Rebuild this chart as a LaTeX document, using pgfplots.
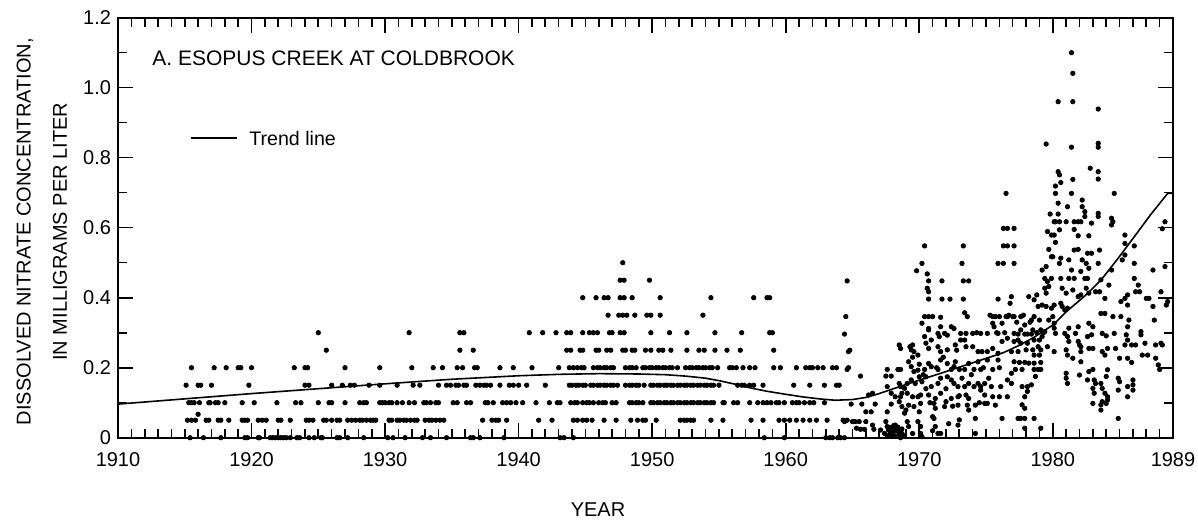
\documentclass[border=0pt]{standalone}
\usepackage{fontspec}
\setmainfont{Liberation Sans}
\usepackage{pgfplots}
\pgfplotsset{compat=1.18}
\pgfplotsset{dots/.style={only marks, mark=*, mark size=1.1pt, black}}

\begin{document}
\begin{tikzpicture}
\useasboundingbox (-59pt,-43.65pt) rectangle (540pt,218.85pt);
\begin{axis}[
    scale only axis,
    width=527.5pt, height=210pt,
    xmin=1910, xmax=1989,
    ymin=0, ymax=1.2,
    xtick={1910,1920,1930,1940,1950,1960,1970,1980,1989},
    xticklabels={1910,1920,1930,1940,1950,1960,1970,1980,1989},
    minor xtick={1911,...,1988},
    ytick={0,0.2,0.4,0.6,0.8,1.0,1.2},
    yticklabels={0,0.2,0.4,0.6,0.8,1.0,1.2},
    minor ytick={0.1,0.3,0.5,0.7,0.9,1.1},
    tick align=inside,
    major tick length=7.5pt,
    minor tick length=4.5pt,
    every tick/.style={black, line width=0.8pt},
    axis line style={line width=0.9pt},
    tick label style={font=\fontsize{10}{12}\selectfont},
    /pgf/number format/assume math mode=true,
    xticklabel style={anchor=center, yshift=-10.8pt},
    clip=false,
]

% trend line
\addplot[black, line width=0.8pt] coordinates {
    (1910,0.096) (1915,0.111) (1920,0.126) (1925,0.140) (1930,0.154)
    (1935,0.167) (1940,0.177) (1943,0.181) (1946,0.183) (1949,0.182)
    (1951,0.180) (1952.5,0.176) (1954,0.170) (1955,0.163) (1956.2,0.153)
    (1957.5,0.141) (1958.7,0.132) (1960,0.124) (1961.2,0.117) (1962.5,0.111)
    (1963.7,0.107) (1965,0.109) (1966,0.115) (1967,0.126) (1968,0.139)
    (1969,0.152) (1970.3,0.168) (1971.6,0.184) (1974,0.214) (1976.3,0.243)
    (1977.5,0.264) (1978.6,0.287) (1980,0.322) (1981.1,0.363) (1982.4,0.405)
    (1983.6,0.450) (1984.8,0.508) (1986.1,0.574) (1987.3,0.636) (1988.6,0.698)
    (1989,0.698)
};

% 1914-1965 samples (reported in 0.05 steps)
\addplot[dots] coordinates {
    (1915.4,0) (1916.4,0) (1917.7,0) (1919.5,0) (1919.7,0) (1920.5,0) (1920.6,0)
    (1921.4,0) (1921.6,0) (1921.8,0) (1922.0,0) (1922.2,0) (1922.4,0) (1922.6,0)
    (1922.9,0) (1923.4,0) (1923.6,0) (1924.3,0) (1924.7,0) (1925.2,0) (1925.3,0)
    (1926.4,0) (1926.6,0) (1927.2,0) (1928.4,0) (1930.2,0) (1930.6,0) (1931.5,0)
    (1932.8,0) (1933.4,0) (1934.6,0) (1936.4,0) (1936.6,0) (1937.1,0) (1938.9,0)
    (1943.1,0) (1943.4,0) (1944.1,0) (1958.4,0) (1959.9,0) (1963.0,0) (1963.3,0)
    (1963.5,0) (1963.9,0) (1964.1,0) (1964.4,0)
};
\addplot[dots] coordinates {
    (1915.2,0.05) (1915.5,0.05) (1915.8,0.05) (1916.6,0.05) (1916.8,0.05)
    (1917.5,0.05) (1917.7,0.05) (1918.3,0.05) (1919.3,0.05) (1919.5,0.05)
    (1919.7,0.05) (1920.5,0.05) (1920.8,0.05) (1921.1,0.05) (1922.0,0.05)
    (1922.2,0.05) (1922.9,0.05) (1924.1,0.05) (1924.3,0.05) (1924.6,0.05)
    (1925.4,0.05) (1925.6,0.05) (1926.0,0.05) (1926.4,0.05) (1926.6,0.05)
    (1927.2,0.05) (1927.5,0.05) (1927.8,0.05) (1928.1,0.05) (1928.3,0.05)
    (1928.6,0.05) (1928.9,0.05) (1929.1,0.05) (1929.3,0.05) (1930.3,0.05)
    (1930.5,0.05) (1930.9,0.05) (1931.1,0.05) (1931.4,0.05) (1931.6,0.05)
    (1931.9,0.05) (1932.2,0.05) (1932.4,0.05) (1933.0,0.05) (1933.3,0.05)
    (1933.5,0.05) (1933.8,0.05) (1934.1,0.05) (1934.4,0.05) (1937.3,0.05)
    (1938.0,0.05) (1938.3,0.05) (1938.5,0.05) (1939.1,0.05) (1941.5,0.05)
    (1942.5,0.05) (1944.1,0.05) (1944.4,0.05) (1944.8,0.05) (1945.1,0.05)
    (1945.5,0.05) (1946.4,0.05) (1947.3,0.05) (1948.4,0.05) (1948.9,0.05)
    (1949.3,0.05) (1949.5,0.05) (1950.3,0.05) (1952.1,0.05) (1952.4,0.05)
    (1952.6,0.05) (1952.9,0.05) (1953.1,0.05) (1954.4,0.05) (1955.3,0.05)
    (1957.4,0.05) (1958.3,0.05) (1959.5,0.05) (1959.9,0.05) (1960.3,0.05)
    (1960.8,0.05) (1961.3,0.05) (1961.8,0.05) (1962.3,0.05) (1963.1,0.05)
    (1964.3,0.05) (1964.6,0.05) (1916.0,0.067)
};
\addplot[dots] coordinates {
    (1915.3,0.1) (1915.5,0.1) (1915.7,0.1) (1916.1,0.1) (1916.8,0.1) (1916.9,0.1)
    (1917.3,0.1) (1917.5,0.1) (1918.0,0.1) (1919.3,0.1) (1920.2,0.1) (1921.9,0.1)
    (1923.3,0.1) (1923.7,0.1) (1925.0,0.1) (1925.8,0.1) (1926.0,0.1) (1927.0,0.1)
    (1928.1,0.1) (1928.4,0.1) (1928.6,0.1) (1929.6,0.1) (1929.8,0.1) (1930.0,0.1)
    (1930.3,0.1) (1930.5,0.1) (1930.9,0.1) (1931.3,0.1) (1931.8,0.1) (1932.2,0.1)
    (1932.9,0.1) (1933.1,0.1) (1933.4,0.1) (1933.8,0.1) (1934.0,0.1) (1935.1,0.1)
    (1935.4,0.1) (1936.1,0.1) (1936.4,0.1) (1937.5,0.1) (1937.7,0.1) (1938.1,0.1)
    (1938.8,0.1) (1939.1,0.1) (1939.4,0.1) (1939.8,0.1) (1940.3,0.1) (1941.3,0.1)
    (1942.3,0.1) (1942.9,0.1) (1943.1,0.1) (1943.9,0.1) (1944.2,0.1) (1944.4,0.1)
    (1944.8,0.1) (1945.1,0.1) (1945.3,0.1) (1945.6,0.1) (1946.0,0.1) (1946.3,0.1)
    (1946.5,0.1) (1947.0,0.1) (1947.3,0.1) (1948.3,0.1) (1948.5,0.1) (1948.8,0.1)
    (1949.0,0.1) (1949.3,0.1) (1949.9,0.1) (1950.1,0.1) (1950.4,0.1) (1950.6,0.1)
    (1950.9,0.1) (1951.1,0.1) (1951.4,0.1) (1951.6,0.1) (1951.9,0.1) (1952.1,0.1)
    (1952.4,0.1) (1952.6,0.1) (1952.9,0.1) (1953.1,0.1) (1953.4,0.1) (1953.6,0.1)
    (1953.9,0.1) (1954.1,0.1) (1954.4,0.1) (1954.6,0.1) (1955.3,0.1) (1955.4,0.1)
    (1956.1,0.1) (1956.4,0.1) (1957.3,0.1) (1957.9,0.1) (1958.3,0.1) (1958.6,0.1)
    (1958.9,0.1) (1959.3,0.1) (1959.5,0.1) (1959.9,0.1) (1960.5,0.1) (1960.8,0.1)
    (1961.0,0.1) (1961.4,0.1) (1961.8,0.1) (1962.1,0.1) (1962.9,0.1)
};
\addplot[dots] coordinates {
    (1915.1,0.15) (1916.0,0.15) (1916.2,0.15) (1917.0,0.15) (1919.8,0.15)
    (1924.0,0.15) (1924.3,0.15) (1926.0,0.15) (1926.8,0.15) (1927.4,0.15)
    (1927.7,0.15) (1928.8,0.15) (1929.6,0.15) (1930.9,0.15) (1932.1,0.15)
    (1932.6,0.15) (1934.0,0.15) (1934.6,0.15) (1934.9,0.15) (1935.3,0.15)
    (1935.5,0.15) (1935.9,0.15) (1936.1,0.15) (1936.8,0.15) (1937.1,0.15)
    (1937.4,0.15) (1937.6,0.15) (1937.9,0.15) (1938.6,0.15) (1939.3,0.15)
    (1939.6,0.15) (1940.0,0.15) (1940.6,0.15) (1942.0,0.15) (1943.8,0.15)
    (1944.0,0.15) (1944.3,0.15) (1944.5,0.15) (1944.8,0.15) (1945.0,0.15)
    (1945.4,0.15) (1945.6,0.15) (1945.9,0.15) (1946.1,0.15) (1946.4,0.15)
    (1946.6,0.15) (1946.9,0.15) (1947.1,0.15) (1947.4,0.15) (1948.0,0.15)
    (1948.3,0.15) (1948.5,0.15) (1948.8,0.15) (1949.0,0.15) (1949.4,0.15)
    (1949.9,0.15) (1950.1,0.15) (1950.4,0.15) (1950.6,0.15) (1950.9,0.15)
    (1951.1,0.15) (1951.4,0.15) (1951.6,0.15) (1951.9,0.15) (1952.1,0.15)
    (1952.4,0.15) (1952.6,0.15) (1952.9,0.15) (1953.1,0.15) (1953.4,0.15)
    (1953.6,0.15) (1953.9,0.15) (1954.1,0.15) (1954.4,0.15) (1954.6,0.15)
    (1955.0,0.15) (1956.4,0.15) (1956.7,0.15) (1956.9,0.15) (1957.3,0.15)
    (1957.6,0.15) (1958.3,0.15) (1960.6,0.15) (1961.8,0.15) (1962.9,0.15)
    (1963.8,0.15) (1964.0,0.15)
};
\addplot[dots] coordinates {
    (1915.5,0.2) (1917.2,0.2) (1918.1,0.2) (1919.0,0.2) (1919.2,0.2) (1920.0,0.2)
    (1923.2,0.2) (1924.0,0.2) (1924.2,0.2) (1927.0,0.2) (1929.6,0.2) (1932.0,0.2)
    (1933.6,0.2) (1934.3,0.2) (1935.4,0.2) (1935.8,0.2) (1936.7,0.2) (1936.9,0.2)
    (1938.6,0.2) (1939.6,0.2) (1941.0,0.2) (1943.0,0.2) (1943.8,0.2) (1944.1,0.2)
    (1944.4,0.2) (1944.7,0.2) (1944.9,0.2) (1945.6,0.2) (1945.9,0.2) (1946.1,0.2)
    (1946.4,0.2) (1946.6,0.2) (1946.9,0.2) (1947.1,0.2) (1948.0,0.2) (1948.3,0.2)
    (1948.5,0.2) (1948.8,0.2) (1949.3,0.2) (1949.5,0.2) (1949.8,0.2) (1950.0,0.2)
    (1950.3,0.2) (1950.5,0.2) (1950.8,0.2) (1951.0,0.2) (1951.3,0.2) (1951.5,0.2)
    (1951.9,0.2) (1952.5,0.2) (1952.8,0.2) (1953.0,0.2) (1953.3,0.2) (1953.5,0.2)
    (1953.8,0.2) (1954.0,0.2) (1954.3,0.2) (1954.5,0.2) (1954.9,0.2) (1955.8,0.2)
    (1956.0,0.2) (1956.3,0.2) (1956.8,0.2) (1957.3,0.2) (1957.7,0.2) (1959.1,0.2)
    (1959.6,0.2) (1960.8,0.2) (1961.5,0.2) (1961.8,0.2) (1962.0,0.2) (1962.4,0.2)
    (1962.8,0.2) (1963.5,0.2) (1963.8,0.2) (1964.7,0.2)
};
\addplot[dots] coordinates {
    (1925.6,0.25) (1935.6,0.25) (1936.6,0.25) (1943.6,0.25) (1943.9,0.25)
    (1944.6,0.25) (1944.8,0.25) (1945.8,0.25) (1946.0,0.25) (1946.6,0.25)
    (1946.9,0.25) (1947.8,0.25) (1948.0,0.25) (1948.5,0.25) (1948.7,0.25)
    (1949.5,0.25) (1949.9,0.25) (1950.5,0.25) (1950.8,0.25) (1951.4,0.25)
    (1952.6,0.25) (1953.5,0.25) (1953.9,0.25) (1954.7,0.25) (1955.6,0.25)
    (1956.6,0.25) (1959.1,0.25) (1964.8,0.25)
};
\addplot[dots] coordinates {
    (1925.0,0.3) (1931.8,0.3) (1935.6,0.3) (1935.9,0.3) (1940.8,0.3) (1941.8,0.3)
    (1942.8,0.3) (1943.6,0.3) (1943.9,0.3) (1944.8,0.3) (1945.3,0.3) (1945.6,0.3)
    (1945.9,0.3) (1946.8,0.3) (1947.0,0.3) (1947.6,0.3) (1947.9,0.3) (1949.9,0.3)
    (1951.3,0.3) (1952.6,0.3) (1954.7,0.3) (1956.7,0.3) (1958.8,0.3) (1959.0,0.3)
    (1946.7,0.35) (1947.5,0.35) (1947.8,0.35) (1948.1,0.35) (1948.7,0.35)
    (1949.6,0.35) (1949.9,0.35) (1950.6,0.35) (1953.8,0.35)
    (1944.8,0.4) (1945.8,0.4) (1946.4,0.4) (1946.7,0.4) (1947.6,0.4) (1947.9,0.4)
    (1948.5,0.4) (1950.6,0.4) (1954.4,0.4) (1957.6,0.4) (1958.6,0.4) (1958.8,0.4)
    (1947.6,0.45) (1947.9,0.45) (1949.8,0.45) (1947.8,0.5)
};

% 1964-1976 samples
\addplot[dots] coordinates {
    (1970.4,0.548) (1973.3,0.548) (1970.2,0.498) (1973.2,0.498) (1975.9,0.498)
    (1969.8,0.477) (1970.6,0.468) (1964.6,0.448) (1970.7,0.448) (1971.7,0.448)
    (1973.3,0.448) (1973.7,0.448) (1970.6,0.427) (1970.7,0.417) (1970.7,0.396)
    (1971.7,0.396) (1972.3,0.396) (1973.3,0.396) (1975.9,0.396) (1964.5,0.346)
    (1973.4,0.357) (1973.6,0.346) (1970.4,0.346) (1970.7,0.346) (1971.0,0.346)
    (1971.6,0.344) (1975.5,0.346) (1975.7,0.346) (1976.0,0.346) (1964.4,0.296)
    (1970.2,0.327) (1970.7,0.312) (1970.7,0.308) (1971.6,0.317) (1972.4,0.317)
    (1972.6,0.312) (1971.9,0.298) (1971.4,0.298) (1971.5,0.289) (1972.1,0.293)
    (1970.4,0.289) (1970.9,0.279) (1973.1,0.298) (1973.5,0.298) (1974.0,0.298)
    (1974.6,0.298) (1975.1,0.298) (1975.5,0.327) (1975.6,0.317) (1975.9,0.298)
    (1964.7,0.246) (1968.5,0.265) (1968.6,0.255) (1969.4,0.251) (1969.5,0.265)
    (1969.6,0.246) (1969.9,0.236) (1970.5,0.270) (1970.7,0.255) (1971.4,0.260)
    (1971.6,0.246) (1972.1,0.251) (1972.7,0.265) (1973.1,0.279) (1973.4,0.279)
    (1974.0,0.260) (1974.4,0.246) (1974.7,0.246) (1975.1,0.246) (1975.5,0.255)
    (1975.9,0.241) (1964.6,0.195) (1967.6,0.195) (1968.4,0.195) (1968.6,0.195)
    (1969.2,0.217) (1969.4,0.203) (1969.6,0.189) (1969.9,0.193) (1970.4,0.195)
    (1970.7,0.212) (1970.9,0.203) (1971.4,0.195) (1971.6,0.222) (1972.1,0.212)
    (1972.4,0.195) (1972.6,0.203) (1972.7,0.217) (1973.0,0.195) (1973.4,0.195)
    (1973.7,0.212) (1974.1,0.195) (1974.4,0.217) (1974.6,0.195) (1975.1,0.222)
    (1975.5,0.195) (1975.9,0.222) (1965.6,0.176) (1967.5,0.176) (1967.9,0.176)
    (1968.5,0.155) (1968.6,0.146) (1968.9,0.141) (1969.1,0.155) (1969.4,0.165)
    (1969.7,0.155) (1970.0,0.174) (1970.2,0.160) (1970.5,0.174) (1970.9,0.146)
    (1971.4,0.155) (1971.6,0.170) (1972.1,0.174) (1972.4,0.165) (1972.6,0.155)
    (1972.9,0.146) (1973.4,0.146) (1973.7,0.155) (1974.1,0.146) (1974.4,0.155)
    (1974.6,0.146) (1974.9,0.155) (1975.4,0.146) (1966.5,0.127) (1966.2,0.122)
    (1967.6,0.146) (1967.9,0.127) (1968.2,0.117) (1968.6,0.117) (1968.7,0.127)
    (1969.1,0.127) (1969.5,0.117) (1969.9,0.117) (1970.1,0.122) (1970.7,0.122)
    (1971.2,0.112) (1971.6,0.127) (1972.4,0.112) (1972.9,0.117) (1973.5,0.122)
    (1973.7,0.112) (1974.6,0.136) (1974.9,0.122) (1975.5,0.117) (1976.0,0.117)
    (1964.9,0.096) (1965.7,0.096) (1966.7,0.096) (1967.9,0.096) (1968.5,0.103)
    (1968.7,0.089) (1969.0,0.079) (1969.2,0.093) (1968.9,0.070) (1969.6,0.089)
    (1970.0,0.074) (1970.1,0.098) (1971.1,0.098) (1971.2,0.084) (1971.9,0.089)
    (1972.0,0.103) (1972.9,0.093) (1973.6,0.093) (1973.7,0.079) (1974.2,0.093)
    (1974.9,0.098) (1975.1,0.098) (1975.7,0.093) (1966.0,0.074) (1966.4,0.074)
    (1967.6,0.074) (1964.4,0.046) (1965.0,0.046) (1965.2,0.046) (1965.5,0.046)
    (1966.0,0.046) (1966.5,0.036) (1965.3,0.027) (1965.6,0.024) (1965.9,0.024)
    (1966.6,0.024) (1967.1,0.022) (1967.5,0.046) (1967.6,0.032) (1967.7,0.022)
    (1967.9,0.012) (1968.1,0.027) (1968.2,0.036) (1968.5,0.022) (1967.4,0.012)
    (1968.0,0.008) (1968.7,0.012) (1969.1,0.046) (1969.2,0.032) (1969.5,0.012)
    (1969.9,0.046) (1970.1,0.032) (1970.1,0.012) (1970.2,0.003) (1971.1,0.055)
    (1971.2,0.032) (1971.4,0.012) (1971.6,0.012) (1972.9,0.036) (1973.0,0.051)
    (1974.2,0.055) (1974.2,0.012) (1967.6,0.005) (1967.8,0.010) (1968.0,0.015)
    (1968.2,0.005) (1968.3,0.020) (1968.5,0.010) (1968.7,0.025) (1968.9,0.005)
    (1967.9,0.030) (1968.1,0.035) (1968.4,0.030) (1968.6,0.000)
    (1969.3,0.260) (1969.5,0.230) (1970.0,0.210) (1970.3,0.180) (1970.5,0.140)
    (1970.8,0.100) (1971.0,0.060) (1971.0,0.020) (1971.3,0.200) (1971.8,0.230)
    (1972.0,0.140) (1972.2,0.040) (1972.5,0.090) (1972.8,0.250) (1973.0,0.120)
    (1973.2,0.170) (1973.5,0.260) (1973.9,0.180) (1974.3,0.300) (1974.5,0.100)
    (1974.8,0.200) (1975.2,0.170) (1975.3,0.350) (1975.8,0.300) (1976.0,0.200)
};

% 1976-1989 samples
\addplot[dots] coordinates {
    (1981.4,1.100) (1981.5,1.041) (1980.4,0.960) (1981.5,0.960) (1983.4,0.939)
    (1979.5,0.839) (1981.4,0.830) (1983.4,0.841) (1983.4,0.830) (1982.8,0.770)
    (1983.4,0.760) (1983.4,0.739) (1980.4,0.760) (1980.5,0.751) (1980.6,0.729)
    (1980.2,0.719) (1981.5,0.738) (1976.5,0.698) (1981.4,0.698) (1980.2,0.698)
    (1984.6,0.698) (1980.4,0.670) (1981.1,0.660) (1982.2,0.679) (1982.2,0.660)
    (1982.4,0.646) (1982.4,0.632) (1979.8,0.639) (1980.4,0.639) (1980.1,0.617)
    (1980.2,0.617) (1980.5,0.617) (1981.0,0.617) (1981.6,0.617) (1981.9,0.617)
    (1982.1,0.617) (1982.9,0.613) (1983.4,0.641) (1983.4,0.632) (1984.4,0.627)
    (1984.5,0.617) (1984.4,0.608) (1981.6,0.595) (1979.6,0.589) (1979.9,0.579)
    (1980.1,0.579) (1980.5,0.594) (1980.2,0.558) (1981.9,0.577) (1982.7,0.577)
    (1985.4,0.579) (1985.4,0.555) (1986.1,0.548) (1988.2,0.597) (1988.4,0.617)
    (1976.3,0.598) (1976.6,0.598) (1977.1,0.598) (1976.3,0.548) (1976.6,0.548)
    (1977.1,0.548) (1979.7,0.538) (1979.9,0.517) (1980.0,0.517) (1980.5,0.498)
    (1980.6,0.513) (1981.2,0.508) (1981.9,0.538) (1981.6,0.536) (1982.6,0.527)
    (1982.9,0.527) (1982.2,0.508) (1982.5,0.498) (1981.4,0.479) (1982.1,0.475)
    (1982.7,0.484) (1983.4,0.498) (1983.5,0.536) (1985.4,0.522) (1985.2,0.508)
    (1986.1,0.498) (1987.5,0.479) (1988.4,0.489) (1976.3,0.498) (1977.1,0.498)
    (1979.2,0.479) (1979.5,0.489) (1979.4,0.455) (1979.6,0.446) (1979.9,0.455)
    (1980.6,0.455) (1981.2,0.455) (1981.6,0.455) (1982.4,0.455) (1982.6,0.455)
    (1983.6,0.451) (1983.2,0.417) (1983.5,0.417) (1984.2,0.436) (1984.4,0.479)
    (1983.9,0.398) (1980.7,0.427) (1981.0,0.413) (1981.5,0.422) (1981.9,0.403)
    (1982.1,0.408) (1982.5,0.427) (1982.7,0.413) (1979.7,0.432) (1979.4,0.427)
    (1979.5,0.413) (1986.1,0.455) (1986.4,0.436) (1986.2,0.417) (1986.5,0.417)
    (1985.6,0.408) (1985.4,0.398) (1985.1,0.389) (1985.6,0.379) (1987.0,0.398)
    (1987.2,0.398) (1988.1,0.417) (1987.5,0.375) (1987.6,0.336) (1988.6,0.389)
    (1988.5,0.379) (1976.9,0.403) (1976.8,0.384) (1977.0,0.346) (1976.5,0.346)
    (1976.2,0.327) (1976.6,0.346) (1977.1,0.346) (1977.6,0.346) (1978.2,0.403)
    (1978.8,0.408) (1978.6,0.394) (1978.9,0.375) (1979.2,0.379) (1979.5,0.375)
    (1979.9,0.370) (1980.1,0.379) (1980.6,0.384) (1980.7,0.375) (1980.9,0.365)
    (1981.1,0.370) (1980.0,0.346) (1979.7,0.336) (1980.1,0.327) (1978.6,0.346)
    (1978.4,0.336) (1979.0,0.336) (1979.1,0.308) (1977.9,0.322) (1977.6,0.308)
    (1977.1,0.298) (1977.4,0.296) (1978.1,0.296) (1978.4,0.296) (1978.5,0.308)
    (1977.9,0.296) (1979.4,0.303) (1980.1,0.313) (1980.2,0.298) (1981.2,0.313)
    (1981.9,0.317) (1982.7,0.327) (1983.0,0.317) (1983.6,0.355) (1983.9,0.355)
    (1984.5,0.346) (1985.1,0.346) (1985.7,0.336) (1985.6,0.317) (1976.2,0.275)
    (1976.6,0.284) (1977.1,0.275) (1977.4,0.279) (1977.6,0.270) (1978.1,0.270)
    (1978.6,0.279) (1979.0,0.279) (1979.2,0.289) (1978.9,0.260) (1979.1,0.251)
    (1979.0,0.236) (1976.9,0.246) (1977.4,0.246) (1978.0,0.251) (1978.5,0.251)
    (1978.6,0.236) (1977.1,0.217) (1977.5,0.215) (1977.9,0.215) (1978.2,0.213)
    (1978.6,0.213) (1979.1,0.215) (1980.9,0.298) (1981.1,0.289) (1981.2,0.275)
    (1981.7,0.298) (1981.9,0.275) (1982.0,0.265) (1982.6,0.289) (1982.9,0.294)
    (1983.7,0.298) (1984.0,0.291) (1984.6,0.298) (1985.5,0.294) (1985.6,0.279)
    (1986.6,0.303) (1986.6,0.294) (1986.9,0.270) (1985.4,0.265) (1985.9,0.265)
    (1986.2,0.265) (1987.7,0.265) (1988.1,0.270) (1988.2,0.265) (1980.1,0.246)
    (1981.0,0.251) (1981.1,0.236) (1981.5,0.227) (1982.1,0.260) (1982.1,0.246)
    (1982.1,0.217) (1982.7,0.255) (1983.0,0.255) (1983.7,0.246) (1983.9,0.236)
    (1984.1,0.255) (1984.7,0.255) (1985.0,0.227) (1985.6,0.227) (1985.9,0.215)
    (1986.7,0.236) (1987.1,0.236) (1987.7,0.227) (1987.9,0.208) (1988.0,0.195)
    (1976.9,0.184) (1976.6,0.165) (1977.2,0.195) (1977.7,0.195) (1978.6,0.195)
    (1978.9,0.195) (1979.1,0.195) (1978.7,0.175) (1978.4,0.151) (1978.1,0.146)
    (1977.7,0.146) (1978.1,0.132) (1977.9,0.117) (1977.7,0.094) (1977.9,0.084)
    (1976.9,0.155) (1976.1,0.146) (1976.6,0.117) (1982.0,0.179) (1981.0,0.184)
    (1981.0,0.170) (1981.1,0.155) (1982.7,0.189) (1983.0,0.195) (1982.6,0.165)
    (1983.1,0.165) (1983.2,0.155) (1983.0,0.141) (1983.1,0.127) (1983.6,0.155)
    (1983.7,0.141) (1983.9,0.127) (1984.1,0.117) (1984.1,0.108) (1984.0,0.098)
    (1983.7,0.103) (1983.6,0.094) (1983.6,0.079) (1983.0,0.098) (1984.0,0.175)
    (1984.1,0.194) (1984.9,0.170) (1985.0,0.160) (1985.6,0.146) (1986.0,0.165)
    (1986.0,0.151) (1986.0,0.136) (1984.9,0.136) (1985.6,0.117) (1976.2,0.055)
    (1977.4,0.055) (1977.6,0.055) (1977.9,0.055) (1978.6,0.055) (1984.9,0.055)
    (1977.9,0.027) (1979.1,0.027)
    (1976.4,0.300) (1976.7,0.350) (1977.3,0.330) (1977.8,0.350) (1978.3,0.330)
    (1978.8,0.300) (1979.3,0.300) (1979.6,0.260)
};
\end{axis}

\node[anchor=west, inner sep=0, font=\fontsize{10.5}{12}\selectfont]
    at (17pt,189.8pt) {A. ESOPUS CREEK AT COLDBROOK};
\draw[line width=0.8pt] (36.5pt,149.85pt) -- (59.5pt,149.85pt);
\node[anchor=west, inner sep=0, font=\fontsize{9.8}{12}\selectfont]
    at (65.5pt,149.85pt) {Trend line};
\node[rotate=90, inner sep=0, font=\fontsize{10}{12}\selectfont]
    at (-46.5pt,103pt) {DISSOLVED NITRATE CONCENTRATION,};
\node[rotate=90, inner sep=0, font=\fontsize{10}{12}\selectfont]
    at (-29pt,103pt) {IN MILLIGRAMS PER LITER};
\node[inner sep=0, font=\fontsize{10}{12}\selectfont]
    at (240pt,-36.2pt) {YEAR};
\end{tikzpicture}
\end{document}
